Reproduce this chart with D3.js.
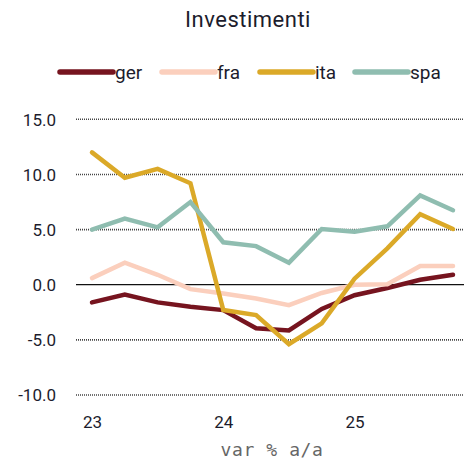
<!DOCTYPE html>
<html>
<head>
<meta charset="utf-8">
<script src="https://cdn.jsdelivr.net/npm/d3@7"></script>
<style>
  body { margin: 0; background: #fff; }
  text { font-family: Roboto, "Noto Sans", sans-serif; fill: #1c1c2c; }
</style>
</head>
<body>
<div id="chart"></div>
<script>
// quarters 2023Q1 .. 2025Q4
var quarters = ["23Q1","23Q2","23Q3","23Q4","24Q1","24Q2","24Q3","24Q4","25Q1","25Q2","25Q3","25Q4"];
var ger = [-1.6, -0.9, -1.6, -2.0, -2.3, -3.95, -4.15, -2.2, -0.95, -0.3, 0.45, 0.9];
var fra = [0.6, 2.0, 0.9, -0.4, -0.8, -1.25, -1.85, -0.75, 0.0, 0.05, 1.7, 1.7];
var ita = [12.0, 9.7, 10.5, 9.2, -2.3, -2.75, -5.4, -3.5, 0.55, 3.3, 6.4, 5.05];
var spa = [5.0, 6.0, 5.2, 7.5, 3.85, 3.5, 2.0, 5.05, 4.8, 5.3, 8.1, 6.75];
var yTicks = [-10, -5, 0, 5, 10, 15];
var xTickIdx = [0, 4, 8];
var xTickLabels = ["23", "24", "25"];

var series = [
  { name: "ger", values: ger, color: "#76141f" },
  { name: "fra", values: fra, color: "#fbcfbd" },
  { name: "ita", values: ita, color: "#dba928" },
  { name: "spa", values: spa, color: "#8fbdb0" }
];

var width = 464, height = 461;

var svg = d3.select("#chart").append("svg")
  .attr("width", width)
  .attr("height", height);

var x = d3.scaleLinear()
  .domain([0, quarters.length - 1])
  .range([92, 453]);

var y = d3.scaleLinear()
  .domain([-10, 15])
  .range([395, 119.3]);

// title
svg.append("text")
  .attr("x", 248)
  .attr("y", 27)
  .attr("text-anchor", "middle")
  .style("font-size", "22px")
  .style("letter-spacing", "0.5px")
  .text("Investimenti");

// legend
var legendX = [60, 162, 260, 355];
var leg = svg.selectAll(".legend")
  .data(series)
  .enter().append("g")
  .attr("class", "legend")
  .attr("transform", function(d, i){ return "translate(" + legendX[i] + ",72)"; });

leg.append("line")
  .attr("x1", 0).attr("x2", 53)
  .attr("stroke", function(d){ return d.color; })
  .attr("stroke-width", 5.5)
  .attr("stroke-linecap", "round");

leg.append("text")
  .attr("x", 55)
  .attr("y", 7)
  .style("font-size", "19px")
  .text(function(d){ return d.name; });

// grid
svg.append("g")
  .selectAll("line")
  .data(yTicks.filter(function(d){ return d !== 0; }))
  .enter().append("line")
  .attr("x1", 76).attr("x2", 464)
  .attr("y1", function(d){ return y(d); })
  .attr("y2", function(d){ return y(d); })
  .attr("stroke", "#444")
  .attr("stroke-width", 1.6)
  .attr("stroke-dasharray", "1,1");

svg.append("line")
  .attr("x1", 76).attr("x2", 464)
  .attr("y1", y(0)).attr("y2", y(0))
  .attr("stroke", "#111")
  .attr("stroke-width", 1.3);

// y axis labels
var yAxis = svg.append("g")
  .attr("class", "axis axis--y")
  .attr("transform", "translate(62,0)")
  .call(d3.axisLeft(y).tickValues(yTicks).tickSize(0).tickPadding(6)
    .tickFormat(function(d){ return d3.format(".1f")(d).replace("−", "-"); }));
yAxis.select(".domain").remove();
yAxis.selectAll("text").style("font-size", "17px").attr("dy", "0.35em").style("font-family", "Roboto");

// x axis labels
var xAxis = svg.append("g")
  .attr("class", "axis axis--x")
  .attr("transform", "translate(0,410)")
  .call(d3.axisBottom(x).tickValues(xTickIdx).tickSize(0).tickPadding(6)
    .tickFormat(function(d, i){ return xTickLabels[i]; }));
xAxis.select(".domain").remove();
xAxis.selectAll("text").style("font-size", "17px").style("font-family", "Roboto");

// axis title
svg.append("text")
  .attr("x", 272)
  .attr("y", 456)
  .attr("text-anchor", "middle")
  .style("font-family", "'DejaVu Sans Mono', monospace")
  .style("font-size", "18px")
  .style("letter-spacing", "0.6px")
  .style("fill", "#666")
  .text("var % a/a");

// lines
var line = d3.line()
  .x(function(d, i){ return x(i); })
  .y(function(d){ return y(d); });

svg.selectAll(".series")
  .data(series)
  .enter().append("path")
  .attr("class", "series")
  .attr("fill", "none")
  .attr("stroke", function(d){ return d.color; })
  .attr("stroke-width", 4.5)
  .attr("stroke-linejoin", "miter")
  .attr("stroke-linecap", "round")
  .attr("d", function(d){ return line(d.values); });
</script>
</body>
</html>
